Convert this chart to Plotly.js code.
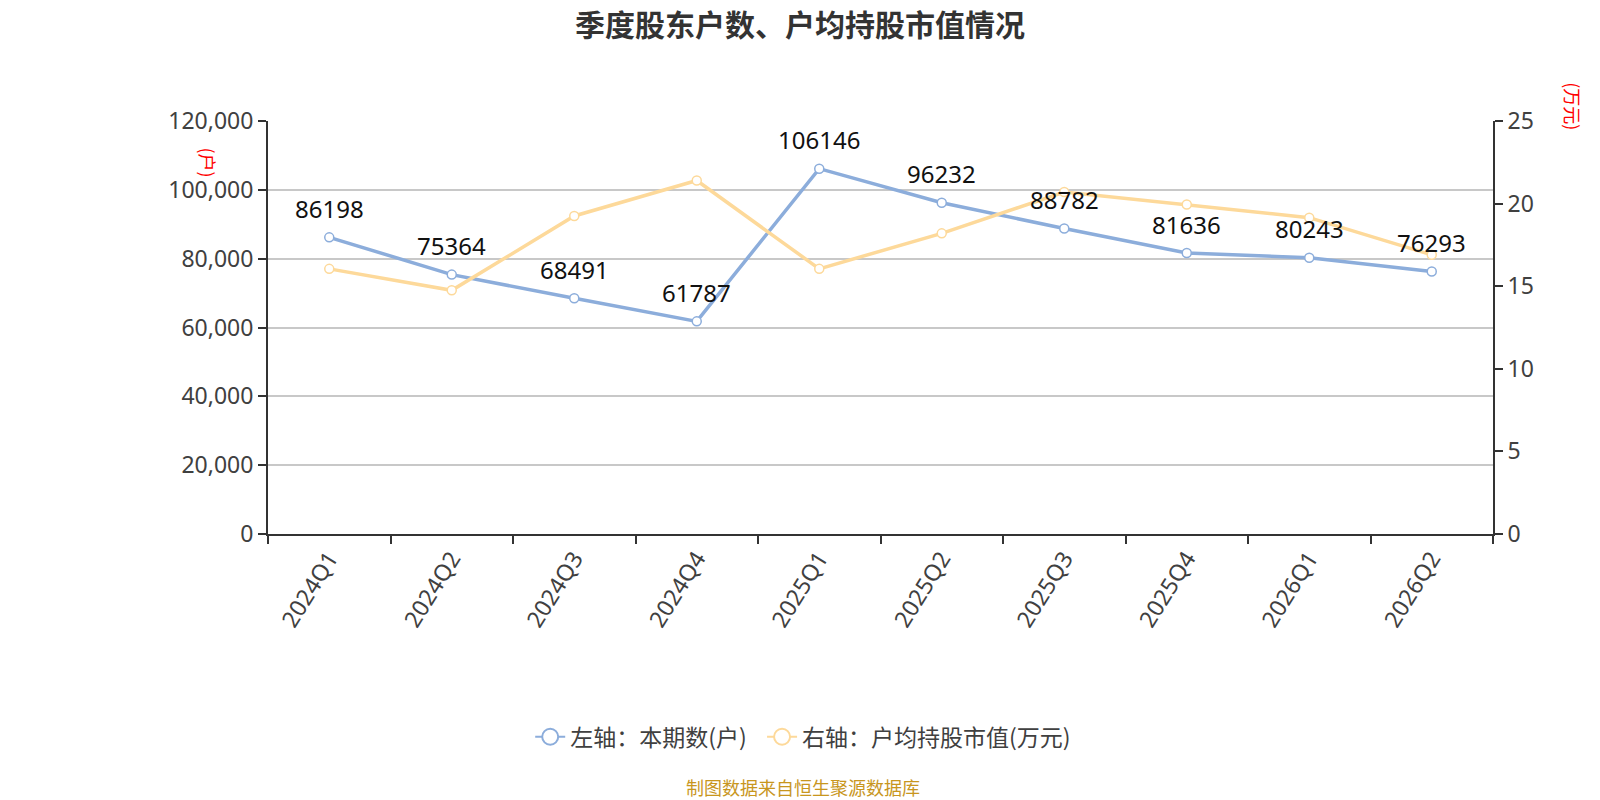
<!DOCTYPE html>
<html>
<head>
<meta charset="utf-8">
<script src="https://cdn.plot.ly/plotly-3.0.1.min.js"></script>
<style>body{margin:0;background:#fff;}</style>
</head>
<body>
<div id="chart" style="width:1600px;height:800px;"></div>
<script>
// quarters and values
var quarters = ['2024Q1', '2024Q2', '2024Q3', '2024Q4', '2025Q1', '2025Q2', '2025Q3', '2025Q4', '2026Q1', '2026Q2'];
var holders = [86198, 75364, 68491, 61787, 106146, 96232, 88782, 81636, 80243, 76293];
var avgValue = [16.05, 14.75, 19.25, 21.4, 16.05, 18.2, 20.7, 19.95, 19.15, 16.9];

var fontFam = '"Noto Sans", "Noto Sans CJK SC", sans-serif';
var cjkFam = '"Noto Sans CJK SC", "Noto Sans", sans-serif';
var blue = '#8caddb';
var yellow = '#fdd99a';

var traceAvg = {
    x: quarters,
    y: avgValue,
    name: '右轴：户均持股市值(万元)',
    type: 'scatter',
    mode: 'lines+markers',
    yaxis: 'y2',
    showlegend: false,
    line: {color: yellow, width: 3.5},
    marker: {size: 9, color: '#fff', line: {color: yellow, width: 1.5}}
};

var traceHolders = {
    x: quarters,
    y: holders,
    name: '左轴：本期数(户)',
    type: 'scatter',
    mode: 'lines+markers',
    showlegend: false,
    line: {color: blue, width: 3.5},
    marker: {size: 9, color: '#fff', line: {color: blue, width: 1.5}}
};

// legend entries only (big hollow circles like the original legend)
var legHolders = {
    x: [null], y: [null], name: traceHolders.name + '  ', type: 'scatter', mode: 'lines+markers',
    line: {color: blue, width: 2}, marker: {size: 24, color: '#fff', line: {color: blue, width: 2}}
};
var legAvg = {
    x: [null], y: [null], name: traceAvg.name, type: 'scatter', mode: 'lines+markers', yaxis: 'y2',
    line: {color: yellow, width: 2}, marker: {size: 24, color: '#fff', line: {color: yellow, width: 2}}
};

// value labels above the blue points
var notes = [];
for (let i = 0; i < quarters.length; i++) {
    notes.push({
        x: quarters[i], y: holders[i], xref: 'x', yref: 'y',
        text: String(holders[i]), showarrow: false, yshift: 29,
        font: {size: 24, color: '#111', family: fontFam}
    });
}
notes.push({
    xref: 'paper', yref: 'paper', x: -0.061, y: 0.94, text: '(户)', textangle: 90,
    showarrow: false, font: {size: 18, color: 'red', family: cjkFam}
});
notes.push({
    xref: 'paper', yref: 'paper', x: 1.078, y: 1.1, text: '(万元)', textangle: 90,
    showarrow: false, font: {size: 18, color: 'red', family: cjkFam}
});
notes.push({
    xref: 'paper', yref: 'paper', x: 0.437, y: -0.65, text: '制图数据来自恒生聚源数据库',
    showarrow: false, font: {size: 18, color: '#c8961e', family: cjkFam}
});

var layout = {
    width: 1600,
    height: 800,
    margin: {l: 268, r: 107, t: 121, b: 266},
    paper_bgcolor: '#fff',
    plot_bgcolor: '#fff',
    font: {family: fontFam, color: '#404040', size: 22},
    title: {
        text: '<b>季度股东户数、户均持股市值情况</b>',
        x: 0.5, xref: 'container', y: 0.968, yref: 'container', yanchor: 'middle',
        font: {size: 30, color: '#333', family: cjkFam}
    },
    showlegend: true,
    legend: {
        orientation: 'h', xref: 'container', yref: 'container',
        x: 0.502, xanchor: 'center', y: 0.079, yanchor: 'middle',
        font: {size: 23, color: '#404040', family: cjkFam}
    },
    xaxis: {
        type: 'category',
        range: [-0.5, 9.5],
        tickangle: -58,
        tickson: 'boundaries',
        ticks: 'outside',
        ticklen: 8,
        tickwidth: 2,
        tickcolor: '#333',
        showline: true,
        linecolor: '#333',
        linewidth: 2,
        showgrid: false,
        tickfont: {size: 23, color: '#404040'}
    },
    yaxis: {
        range: [0, 120000],
        dtick: 20000,
        tickformat: ',d',
        ticks: 'outside',
        ticklen: 8,
        tickwidth: 2,
        tickcolor: '#333',
        showline: true,
        linecolor: '#333',
        linewidth: 2,
        gridcolor: '#c8c8c8',
        gridwidth: 1.5,
        zeroline: false,
        tickfont: {size: 23, color: '#404040'}
    },
    yaxis2: {
        overlaying: 'y',
        side: 'right',
        range: [0, 25],
        dtick: 5,
        ticks: 'outside',
        ticklen: 8,
        tickwidth: 2,
        tickcolor: '#333',
        showline: true,
        linecolor: '#333',
        linewidth: 2,
        showgrid: false,
        zeroline: false,
        tickfont: {size: 23, color: '#404040'}
    },
    annotations: notes
};

Plotly.newPlot('chart', [traceAvg, traceHolders, legHolders, legAvg], layout, {displayModeBar: false});
</script>
</body>
</html>
